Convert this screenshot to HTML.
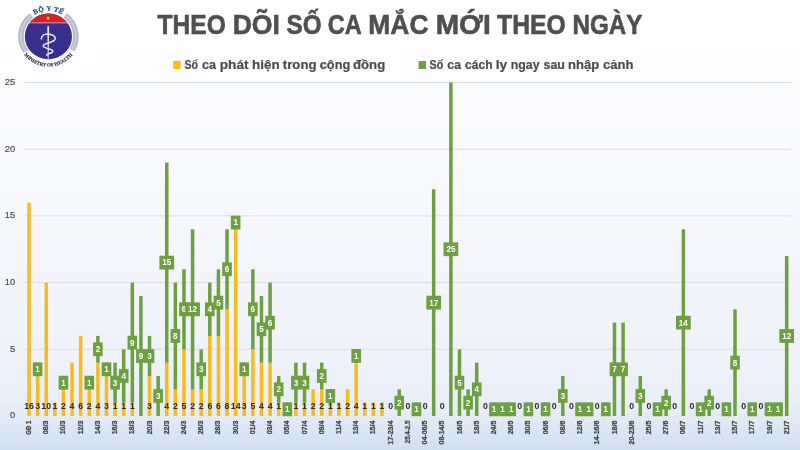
<!DOCTYPE html>
<html lang="vi"><head><meta charset="utf-8"><title>Theo dõi số ca mắc mới theo ngày</title>
<style>html,body{margin:0;padding:0;background:#fff;}body{width:800px;height:450px;overflow:hidden;}svg{display:block;}</style>
</head><body>
<svg width="800" height="450" viewBox="0 0 800 450" font-family="'Liberation Sans', sans-serif">
<defs><linearGradient id="bg" x1="0" y1="0" x2="0" y2="1"><stop offset="0" stop-color="#ffffff"/><stop offset="0.12" stop-color="#fdfdff"/><stop offset="0.45" stop-color="#f7f8fc"/><stop offset="0.8" stop-color="#eff2fa"/><stop offset="0.91" stop-color="#e7edf7"/><stop offset="1" stop-color="#d0dff0"/></linearGradient>
<path id="arcTop" d="M 32.0 16.87 A 25.5 25.5 0 0 1 64.8 16.87"/>
<path id="arcBot" d="M 18.4 42 A 30.6 30.6 0 0 0 78.4 42"/>
</defs>
<rect width="800" height="450" fill="url(#bg)"/>
<rect x="24.5" y="348.80" width="766.5" height="1" fill="#d9dbe0"/>
<rect x="24.5" y="282.10" width="766.5" height="1" fill="#d9dbe0"/>
<rect x="24.5" y="215.40" width="766.5" height="1" fill="#d9dbe0"/>
<rect x="24.5" y="148.70" width="766.5" height="1" fill="#d9dbe0"/>
<rect x="24.5" y="82.00" width="766.5" height="1" fill="#d9dbe0"/>
<text x="15.2" y="418.30" font-size="9.3" fill="#4d4d4d" stroke="#4d4d4d" stroke-width="0.2" text-anchor="end">0</text>
<text x="15.2" y="351.60" font-size="9.3" fill="#4d4d4d" stroke="#4d4d4d" stroke-width="0.2" text-anchor="end">5</text>
<text x="15.2" y="284.90" font-size="9.3" fill="#4d4d4d" stroke="#4d4d4d" stroke-width="0.2" text-anchor="end">10</text>
<text x="15.2" y="218.20" font-size="9.3" fill="#4d4d4d" stroke="#4d4d4d" stroke-width="0.2" text-anchor="end">15</text>
<text x="15.2" y="151.50" font-size="9.3" fill="#4d4d4d" stroke="#4d4d4d" stroke-width="0.2" text-anchor="end">20</text>
<text x="15.2" y="84.80" font-size="9.3" fill="#4d4d4d" stroke="#4d4d4d" stroke-width="0.2" text-anchor="end">25</text>
<rect x="27.25" y="202.56" width="3.5" height="213.44" fill="#f8bb1a"/>
<rect x="35.86" y="375.98" width="3.5" height="40.02" fill="#f8bb1a"/>
<rect x="35.86" y="362.64" width="3.5" height="13.34" fill="#6da040"/>
<rect x="44.47" y="282.60" width="3.5" height="133.40" fill="#f8bb1a"/>
<rect x="53.08" y="402.66" width="3.5" height="13.34" fill="#f8bb1a"/>
<rect x="61.69" y="389.32" width="3.5" height="26.68" fill="#f8bb1a"/>
<rect x="61.69" y="375.98" width="3.5" height="13.34" fill="#6da040"/>
<rect x="70.30" y="362.64" width="3.5" height="53.36" fill="#f8bb1a"/>
<rect x="78.91" y="335.96" width="3.5" height="80.04" fill="#f8bb1a"/>
<rect x="87.52" y="389.32" width="3.5" height="26.68" fill="#f8bb1a"/>
<rect x="87.52" y="375.98" width="3.5" height="13.34" fill="#6da040"/>
<rect x="96.13" y="362.64" width="3.5" height="53.36" fill="#f8bb1a"/>
<rect x="96.13" y="335.96" width="3.5" height="26.68" fill="#6da040"/>
<rect x="104.74" y="375.98" width="3.5" height="40.02" fill="#f8bb1a"/>
<rect x="104.74" y="362.64" width="3.5" height="13.34" fill="#6da040"/>
<rect x="113.35" y="402.66" width="3.5" height="13.34" fill="#f8bb1a"/>
<rect x="113.35" y="362.64" width="3.5" height="40.02" fill="#6da040"/>
<rect x="121.96" y="402.66" width="3.5" height="13.34" fill="#f8bb1a"/>
<rect x="121.96" y="349.30" width="3.5" height="53.36" fill="#6da040"/>
<rect x="130.57" y="402.66" width="3.5" height="13.34" fill="#f8bb1a"/>
<rect x="130.57" y="282.60" width="3.5" height="120.06" fill="#6da040"/>
<rect x="139.18" y="295.94" width="3.5" height="120.06" fill="#6da040"/>
<rect x="147.79" y="375.98" width="3.5" height="40.02" fill="#f8bb1a"/>
<rect x="147.79" y="335.96" width="3.5" height="40.02" fill="#6da040"/>
<rect x="156.40" y="375.98" width="3.5" height="40.02" fill="#6da040"/>
<rect x="165.01" y="362.64" width="3.5" height="53.36" fill="#f8bb1a"/>
<rect x="165.01" y="162.54" width="3.5" height="200.10" fill="#6da040"/>
<rect x="173.62" y="389.32" width="3.5" height="26.68" fill="#f8bb1a"/>
<rect x="173.62" y="282.60" width="3.5" height="106.72" fill="#6da040"/>
<rect x="182.23" y="349.30" width="3.5" height="66.70" fill="#f8bb1a"/>
<rect x="182.23" y="269.26" width="3.5" height="80.04" fill="#6da040"/>
<rect x="190.84" y="389.32" width="3.5" height="26.68" fill="#f8bb1a"/>
<rect x="190.84" y="229.24" width="3.5" height="160.08" fill="#6da040"/>
<rect x="199.45" y="389.32" width="3.5" height="26.68" fill="#f8bb1a"/>
<rect x="199.45" y="349.30" width="3.5" height="40.02" fill="#6da040"/>
<rect x="208.06" y="335.96" width="3.5" height="80.04" fill="#f8bb1a"/>
<rect x="208.06" y="282.60" width="3.5" height="53.36" fill="#6da040"/>
<rect x="216.67" y="335.96" width="3.5" height="80.04" fill="#f8bb1a"/>
<rect x="216.67" y="269.26" width="3.5" height="66.70" fill="#6da040"/>
<rect x="225.28" y="309.28" width="3.5" height="106.72" fill="#f8bb1a"/>
<rect x="225.28" y="229.24" width="3.5" height="80.04" fill="#6da040"/>
<rect x="233.89" y="229.24" width="3.5" height="186.76" fill="#f8bb1a"/>
<rect x="233.89" y="215.90" width="3.5" height="13.34" fill="#6da040"/>
<rect x="242.50" y="375.98" width="3.5" height="40.02" fill="#f8bb1a"/>
<rect x="242.50" y="362.64" width="3.5" height="13.34" fill="#6da040"/>
<rect x="251.11" y="349.30" width="3.5" height="66.70" fill="#f8bb1a"/>
<rect x="251.11" y="269.26" width="3.5" height="80.04" fill="#6da040"/>
<rect x="259.72" y="362.64" width="3.5" height="53.36" fill="#f8bb1a"/>
<rect x="259.72" y="295.94" width="3.5" height="66.70" fill="#6da040"/>
<rect x="268.33" y="362.64" width="3.5" height="53.36" fill="#f8bb1a"/>
<rect x="268.33" y="282.60" width="3.5" height="80.04" fill="#6da040"/>
<rect x="276.94" y="402.66" width="3.5" height="13.34" fill="#f8bb1a"/>
<rect x="276.94" y="375.98" width="3.5" height="26.68" fill="#6da040"/>
<rect x="285.55" y="402.66" width="3.5" height="13.34" fill="#6da040"/>
<rect x="294.16" y="402.66" width="3.5" height="13.34" fill="#f8bb1a"/>
<rect x="294.16" y="362.64" width="3.5" height="40.02" fill="#6da040"/>
<rect x="302.77" y="402.66" width="3.5" height="13.34" fill="#f8bb1a"/>
<rect x="302.77" y="362.64" width="3.5" height="40.02" fill="#6da040"/>
<rect x="311.38" y="389.32" width="3.5" height="26.68" fill="#f8bb1a"/>
<rect x="319.99" y="389.32" width="3.5" height="26.68" fill="#f8bb1a"/>
<rect x="319.99" y="362.64" width="3.5" height="26.68" fill="#6da040"/>
<rect x="328.60" y="402.66" width="3.5" height="13.34" fill="#f8bb1a"/>
<rect x="328.60" y="389.32" width="3.5" height="13.34" fill="#6da040"/>
<rect x="337.21" y="402.66" width="3.5" height="13.34" fill="#f8bb1a"/>
<rect x="345.82" y="389.32" width="3.5" height="26.68" fill="#f8bb1a"/>
<rect x="354.43" y="362.64" width="3.5" height="53.36" fill="#f8bb1a"/>
<rect x="354.43" y="349.30" width="3.5" height="13.34" fill="#6da040"/>
<rect x="363.04" y="402.66" width="3.5" height="13.34" fill="#f8bb1a"/>
<rect x="371.65" y="402.66" width="3.5" height="13.34" fill="#f8bb1a"/>
<rect x="380.26" y="402.66" width="3.5" height="13.34" fill="#f8bb1a"/>
<rect x="397.48" y="389.32" width="3.5" height="26.68" fill="#6da040"/>
<rect x="414.70" y="402.66" width="3.5" height="13.34" fill="#6da040"/>
<rect x="431.92" y="189.22" width="3.5" height="226.78" fill="#6da040"/>
<rect x="449.14" y="82.50" width="3.5" height="333.50" fill="#6da040"/>
<rect x="457.75" y="349.30" width="3.5" height="66.70" fill="#6da040"/>
<rect x="466.36" y="389.32" width="3.5" height="26.68" fill="#6da040"/>
<rect x="474.97" y="362.64" width="3.5" height="53.36" fill="#6da040"/>
<rect x="492.19" y="402.66" width="3.5" height="13.34" fill="#6da040"/>
<rect x="500.80" y="402.66" width="3.5" height="13.34" fill="#6da040"/>
<rect x="509.41" y="402.66" width="3.5" height="13.34" fill="#6da040"/>
<rect x="526.63" y="402.66" width="3.5" height="13.34" fill="#6da040"/>
<rect x="543.85" y="402.66" width="3.5" height="13.34" fill="#6da040"/>
<rect x="561.07" y="375.98" width="3.5" height="40.02" fill="#6da040"/>
<rect x="578.29" y="402.66" width="3.5" height="13.34" fill="#6da040"/>
<rect x="586.90" y="402.66" width="3.5" height="13.34" fill="#6da040"/>
<rect x="604.12" y="402.66" width="3.5" height="13.34" fill="#6da040"/>
<rect x="612.73" y="322.62" width="3.5" height="93.38" fill="#6da040"/>
<rect x="621.34" y="322.62" width="3.5" height="93.38" fill="#6da040"/>
<rect x="638.56" y="375.98" width="3.5" height="40.02" fill="#6da040"/>
<rect x="655.78" y="402.66" width="3.5" height="13.34" fill="#6da040"/>
<rect x="664.39" y="389.32" width="3.5" height="26.68" fill="#6da040"/>
<rect x="681.61" y="229.24" width="3.5" height="186.76" fill="#6da040"/>
<rect x="698.83" y="402.66" width="3.5" height="13.34" fill="#6da040"/>
<rect x="707.44" y="389.32" width="3.5" height="26.68" fill="#6da040"/>
<rect x="724.66" y="402.66" width="3.5" height="13.34" fill="#6da040"/>
<rect x="733.27" y="309.28" width="3.5" height="106.72" fill="#6da040"/>
<rect x="750.49" y="402.66" width="3.5" height="13.34" fill="#6da040"/>
<rect x="767.71" y="402.66" width="3.5" height="13.34" fill="#6da040"/>
<rect x="776.32" y="402.66" width="3.5" height="13.34" fill="#6da040"/>
<rect x="784.93" y="255.92" width="3.5" height="160.08" fill="#6da040"/>
<g font-size="9.2" font-weight="bold" fill="#2b2b2b" text-anchor="middle">
<text transform="translate(29.00 409.2) scale(0.95 1.04)">16</text>
<text transform="translate(37.61 409.2) scale(0.95 1.04)">3</text>
<text transform="translate(46.22 409.2) scale(0.95 1.04)">10</text>
<text transform="translate(54.83 409.2) scale(0.95 1.04)">1</text>
<text transform="translate(63.44 409.2) scale(0.95 1.04)">2</text>
<text transform="translate(72.05 409.2) scale(0.95 1.04)">4</text>
<text transform="translate(80.66 409.2) scale(0.95 1.04)">6</text>
<text transform="translate(89.27 409.2) scale(0.95 1.04)">2</text>
<text transform="translate(97.88 409.2) scale(0.95 1.04)">4</text>
<text transform="translate(106.49 409.2) scale(0.95 1.04)">3</text>
<text transform="translate(115.10 409.2) scale(0.95 1.04)">1</text>
<text transform="translate(123.71 409.2) scale(0.95 1.04)">1</text>
<text transform="translate(132.32 409.2) scale(0.95 1.04)">1</text>
<text transform="translate(149.54 409.2) scale(0.95 1.04)">3</text>
<text transform="translate(166.76 409.2) scale(0.95 1.04)">4</text>
<text transform="translate(175.37 409.2) scale(0.95 1.04)">2</text>
<text transform="translate(183.98 409.2) scale(0.95 1.04)">5</text>
<text transform="translate(192.59 409.2) scale(0.95 1.04)">2</text>
<text transform="translate(201.20 409.2) scale(0.95 1.04)">2</text>
<text transform="translate(209.81 409.2) scale(0.95 1.04)">6</text>
<text transform="translate(218.42 409.2) scale(0.95 1.04)">6</text>
<text transform="translate(227.03 409.2) scale(0.95 1.04)">8</text>
<text transform="translate(235.64 409.2) scale(0.95 1.04)">14</text>
<text transform="translate(244.25 409.2) scale(0.95 1.04)">3</text>
<text transform="translate(252.86 409.2) scale(0.95 1.04)">5</text>
<text transform="translate(261.47 409.2) scale(0.95 1.04)">4</text>
<text transform="translate(270.08 409.2) scale(0.95 1.04)">4</text>
<text transform="translate(278.69 409.2) scale(0.95 1.04)">1</text>
<text transform="translate(295.91 409.2) scale(0.95 1.04)">1</text>
<text transform="translate(304.52 409.2) scale(0.95 1.04)">1</text>
<text transform="translate(313.13 409.2) scale(0.95 1.04)">2</text>
<text transform="translate(321.74 409.2) scale(0.95 1.04)">2</text>
<text transform="translate(330.35 409.2) scale(0.95 1.04)">1</text>
<text transform="translate(338.96 409.2) scale(0.95 1.04)">1</text>
<text transform="translate(347.57 409.2) scale(0.95 1.04)">2</text>
<text transform="translate(356.18 409.2) scale(0.95 1.04)">4</text>
<text transform="translate(364.79 409.2) scale(0.95 1.04)">1</text>
<text transform="translate(373.40 409.2) scale(0.95 1.04)">1</text>
<text transform="translate(382.01 409.2) scale(0.95 1.04)">1</text>
<text transform="translate(390.62 409.2) scale(0.95 1.04)">0</text>
<text transform="translate(407.84 409.2) scale(0.95 1.04)">0</text>
<text transform="translate(425.06 409.2) scale(0.95 1.04)">0</text>
<text transform="translate(442.28 409.2) scale(0.95 1.04)">0</text>
<text transform="translate(485.33 409.2) scale(0.95 1.04)">0</text>
<text transform="translate(519.77 409.2) scale(0.95 1.04)">0</text>
<text transform="translate(536.99 409.2) scale(0.95 1.04)">0</text>
<text transform="translate(554.21 409.2) scale(0.95 1.04)">0</text>
<text transform="translate(571.43 409.2) scale(0.95 1.04)">0</text>
<text transform="translate(597.26 409.2) scale(0.95 1.04)">0</text>
<text transform="translate(631.70 409.2) scale(0.95 1.04)">0</text>
<text transform="translate(648.92 409.2) scale(0.95 1.04)">0</text>
<text transform="translate(674.75 409.2) scale(0.95 1.04)">0</text>
<text transform="translate(691.97 409.2) scale(0.95 1.04)">0</text>
<text transform="translate(717.80 409.2) scale(0.95 1.04)">0</text>
<text transform="translate(743.63 409.2) scale(0.95 1.04)">0</text>
<text transform="translate(760.85 409.2) scale(0.95 1.04)">0</text>
</g>
<g font-size="9.2" font-weight="bold" fill="#ffffff" text-anchor="middle">
<rect x="32.81" y="362.41" width="9.6" height="13.8" fill="#6da040"/><text transform="translate(37.61 372.21) scale(0.88 1.02)">1</text>
<rect x="58.64" y="375.75" width="9.6" height="13.8" fill="#6da040"/><text transform="translate(63.44 385.55) scale(0.88 1.02)">1</text>
<rect x="84.47" y="375.75" width="9.6" height="13.8" fill="#6da040"/><text transform="translate(89.27 385.55) scale(0.88 1.02)">1</text>
<rect x="93.08" y="342.40" width="9.6" height="13.8" fill="#6da040"/><text transform="translate(97.88 352.20) scale(0.88 1.02)">2</text>
<rect x="101.69" y="362.41" width="9.6" height="13.8" fill="#6da040"/><text transform="translate(106.49 372.21) scale(0.88 1.02)">1</text>
<rect x="110.30" y="375.75" width="9.6" height="13.8" fill="#6da040"/><text transform="translate(115.10 385.55) scale(0.88 1.02)">3</text>
<rect x="118.91" y="369.08" width="9.6" height="13.8" fill="#6da040"/><text transform="translate(123.71 378.88) scale(0.88 1.02)">4</text>
<rect x="127.52" y="335.73" width="9.6" height="13.8" fill="#6da040"/><text transform="translate(132.32 345.53) scale(0.88 1.02)">9</text>
<rect x="136.13" y="349.07" width="9.6" height="13.8" fill="#6da040"/><text transform="translate(140.93 358.87) scale(0.88 1.02)">9</text>
<rect x="144.74" y="349.07" width="9.6" height="13.8" fill="#6da040"/><text transform="translate(149.54 358.87) scale(0.88 1.02)">3</text>
<rect x="153.35" y="389.09" width="9.6" height="13.8" fill="#6da040"/><text transform="translate(158.15 398.89) scale(0.88 1.02)">3</text>
<rect x="159.41" y="255.69" width="14.7" height="13.8" fill="#6da040"/><text transform="translate(166.76 265.49) scale(0.88 1.02)">15</text>
<rect x="170.57" y="329.06" width="9.6" height="13.8" fill="#6da040"/><text transform="translate(175.37 338.86) scale(0.88 1.02)">8</text>
<rect x="179.18" y="302.38" width="9.6" height="13.8" fill="#6da040"/><text transform="translate(183.98 312.18) scale(0.88 1.02)">6</text>
<rect x="185.24" y="302.38" width="14.7" height="13.8" fill="#6da040"/><text transform="translate(192.59 312.18) scale(0.88 1.02)">12</text>
<rect x="196.40" y="362.41" width="9.6" height="13.8" fill="#6da040"/><text transform="translate(201.20 372.21) scale(0.88 1.02)">3</text>
<rect x="205.01" y="302.38" width="9.6" height="13.8" fill="#6da040"/><text transform="translate(209.81 312.18) scale(0.88 1.02)">4</text>
<rect x="213.62" y="295.71" width="9.6" height="13.8" fill="#6da040"/><text transform="translate(218.42 305.51) scale(0.88 1.02)">5</text>
<rect x="222.23" y="262.36" width="9.6" height="13.8" fill="#6da040"/><text transform="translate(227.03 272.16) scale(0.88 1.02)">6</text>
<rect x="230.84" y="215.67" width="9.6" height="13.8" fill="#6da040"/><text transform="translate(235.64 225.47) scale(0.88 1.02)">1</text>
<rect x="239.45" y="362.41" width="9.6" height="13.8" fill="#6da040"/><text transform="translate(244.25 372.21) scale(0.88 1.02)">1</text>
<rect x="248.06" y="302.38" width="9.6" height="13.8" fill="#6da040"/><text transform="translate(252.86 312.18) scale(0.88 1.02)">6</text>
<rect x="256.67" y="322.39" width="9.6" height="13.8" fill="#6da040"/><text transform="translate(261.47 332.19) scale(0.88 1.02)">5</text>
<rect x="265.28" y="315.72" width="9.6" height="13.8" fill="#6da040"/><text transform="translate(270.08 325.52) scale(0.88 1.02)">6</text>
<rect x="273.89" y="382.42" width="9.6" height="13.8" fill="#6da040"/><text transform="translate(278.69 392.22) scale(0.88 1.02)">2</text>
<rect x="282.50" y="402.43" width="9.6" height="13.8" fill="#6da040"/><text transform="translate(287.30 412.23) scale(0.88 1.02)">1</text>
<rect x="291.11" y="375.75" width="9.6" height="13.8" fill="#6da040"/><text transform="translate(295.91 385.55) scale(0.88 1.02)">3</text>
<rect x="299.72" y="375.75" width="9.6" height="13.8" fill="#6da040"/><text transform="translate(304.52 385.55) scale(0.88 1.02)">3</text>
<rect x="316.94" y="369.08" width="9.6" height="13.8" fill="#6da040"/><text transform="translate(321.74 378.88) scale(0.88 1.02)">2</text>
<rect x="325.55" y="389.09" width="9.6" height="13.8" fill="#6da040"/><text transform="translate(330.35 398.89) scale(0.88 1.02)">1</text>
<rect x="351.38" y="349.07" width="9.6" height="13.8" fill="#6da040"/><text transform="translate(356.18 358.87) scale(0.88 1.02)">1</text>
<rect x="394.43" y="395.76" width="9.6" height="13.8" fill="#6da040"/><text transform="translate(399.23 405.56) scale(0.88 1.02)">2</text>
<rect x="411.65" y="402.43" width="9.6" height="13.8" fill="#6da040"/><text transform="translate(416.45 412.23) scale(0.88 1.02)">1</text>
<rect x="426.32" y="295.71" width="14.7" height="13.8" fill="#6da040"/><text transform="translate(433.67 305.51) scale(0.88 1.02)">17</text>
<rect x="443.54" y="242.35" width="14.7" height="13.8" fill="#6da040"/><text transform="translate(450.89 252.15) scale(0.88 1.02)">25</text>
<rect x="454.70" y="375.75" width="9.6" height="13.8" fill="#6da040"/><text transform="translate(459.50 385.55) scale(0.88 1.02)">5</text>
<rect x="463.31" y="395.76" width="9.6" height="13.8" fill="#6da040"/><text transform="translate(468.11 405.56) scale(0.88 1.02)">2</text>
<rect x="471.92" y="382.42" width="9.6" height="13.8" fill="#6da040"/><text transform="translate(476.72 392.22) scale(0.88 1.02)">4</text>
<rect x="489.14" y="402.43" width="9.6" height="13.8" fill="#6da040"/><text transform="translate(493.94 412.23) scale(0.88 1.02)">1</text>
<rect x="497.75" y="402.43" width="9.6" height="13.8" fill="#6da040"/><text transform="translate(502.55 412.23) scale(0.88 1.02)">1</text>
<rect x="506.36" y="402.43" width="9.6" height="13.8" fill="#6da040"/><text transform="translate(511.16 412.23) scale(0.88 1.02)">1</text>
<rect x="523.58" y="402.43" width="9.6" height="13.8" fill="#6da040"/><text transform="translate(528.38 412.23) scale(0.88 1.02)">1</text>
<rect x="540.80" y="402.43" width="9.6" height="13.8" fill="#6da040"/><text transform="translate(545.60 412.23) scale(0.88 1.02)">1</text>
<rect x="558.02" y="389.09" width="9.6" height="13.8" fill="#6da040"/><text transform="translate(562.82 398.89) scale(0.88 1.02)">3</text>
<rect x="575.24" y="402.43" width="9.6" height="13.8" fill="#6da040"/><text transform="translate(580.04 412.23) scale(0.88 1.02)">1</text>
<rect x="583.85" y="402.43" width="9.6" height="13.8" fill="#6da040"/><text transform="translate(588.65 412.23) scale(0.88 1.02)">1</text>
<rect x="601.07" y="402.43" width="9.6" height="13.8" fill="#6da040"/><text transform="translate(605.87 412.23) scale(0.88 1.02)">1</text>
<rect x="609.68" y="362.41" width="9.6" height="13.8" fill="#6da040"/><text transform="translate(614.48 372.21) scale(0.88 1.02)">7</text>
<rect x="618.29" y="362.41" width="9.6" height="13.8" fill="#6da040"/><text transform="translate(623.09 372.21) scale(0.88 1.02)">7</text>
<rect x="635.51" y="389.09" width="9.6" height="13.8" fill="#6da040"/><text transform="translate(640.31 398.89) scale(0.88 1.02)">3</text>
<rect x="652.73" y="402.43" width="9.6" height="13.8" fill="#6da040"/><text transform="translate(657.53 412.23) scale(0.88 1.02)">1</text>
<rect x="661.34" y="395.76" width="9.6" height="13.8" fill="#6da040"/><text transform="translate(666.14 405.56) scale(0.88 1.02)">2</text>
<rect x="676.01" y="315.72" width="14.7" height="13.8" fill="#6da040"/><text transform="translate(683.36 325.52) scale(0.88 1.02)">14</text>
<rect x="695.78" y="402.43" width="9.6" height="13.8" fill="#6da040"/><text transform="translate(700.58 412.23) scale(0.88 1.02)">1</text>
<rect x="704.39" y="395.76" width="9.6" height="13.8" fill="#6da040"/><text transform="translate(709.19 405.56) scale(0.88 1.02)">2</text>
<rect x="721.61" y="402.43" width="9.6" height="13.8" fill="#6da040"/><text transform="translate(726.41 412.23) scale(0.88 1.02)">1</text>
<rect x="730.22" y="355.74" width="9.6" height="13.8" fill="#6da040"/><text transform="translate(735.02 365.54) scale(0.88 1.02)">8</text>
<rect x="747.44" y="402.43" width="9.6" height="13.8" fill="#6da040"/><text transform="translate(752.24 412.23) scale(0.88 1.02)">1</text>
<rect x="764.66" y="402.43" width="9.6" height="13.8" fill="#6da040"/><text transform="translate(769.46 412.23) scale(0.88 1.02)">1</text>
<rect x="773.27" y="402.43" width="9.6" height="13.8" fill="#6da040"/><text transform="translate(778.07 412.23) scale(0.88 1.02)">1</text>
<rect x="779.33" y="329.06" width="14.7" height="13.8" fill="#6da040"/><text transform="translate(786.68 338.86) scale(0.88 1.02)">12</text>
</g>
<g font-size="7" font-weight="bold" fill="#454545" stroke="#454545" stroke-width="0.28" text-anchor="end">
<text transform="translate(31.05 420.7) rotate(-90)" textLength="14.0" lengthAdjust="spacingAndGlyphs">GĐ 1</text>
<text transform="translate(48.27 420.7) rotate(-90)">08/3</text>
<text transform="translate(65.49 420.7) rotate(-90)">10/3</text>
<text transform="translate(82.71 420.7) rotate(-90)">12/3</text>
<text transform="translate(99.93 420.7) rotate(-90)">14/3</text>
<text transform="translate(117.15 420.7) rotate(-90)">16/3</text>
<text transform="translate(134.37 420.7) rotate(-90)">18/3</text>
<text transform="translate(151.59 420.7) rotate(-90)">20/3</text>
<text transform="translate(168.81 420.7) rotate(-90)">22/3</text>
<text transform="translate(186.03 420.7) rotate(-90)">24/3</text>
<text transform="translate(203.25 420.7) rotate(-90)">26/3</text>
<text transform="translate(220.47 420.7) rotate(-90)">28/3</text>
<text transform="translate(237.69 420.7) rotate(-90)">30/3</text>
<text transform="translate(254.91 420.7) rotate(-90)">01/4</text>
<text transform="translate(272.13 420.7) rotate(-90)">03/4</text>
<text transform="translate(289.35 420.7) rotate(-90)">05/4</text>
<text transform="translate(306.57 420.7) rotate(-90)">07/4</text>
<text transform="translate(323.79 420.7) rotate(-90)">09/4</text>
<text transform="translate(341.01 420.7) rotate(-90)">11/4</text>
<text transform="translate(358.23 420.7) rotate(-90)">13/4</text>
<text transform="translate(375.45 420.7) rotate(-90)">15/4</text>
<text transform="translate(392.67 420.7) rotate(-90)">17-23/4</text>
<text transform="translate(409.89 420.7) rotate(-90)" textLength="22.6" lengthAdjust="spacingAndGlyphs">25.4-2.5</text>
<text transform="translate(427.11 420.7) rotate(-90)">04-06/5</text>
<text transform="translate(444.33 420.7) rotate(-90)">08-14/5</text>
<text transform="translate(461.55 420.7) rotate(-90)">16/5</text>
<text transform="translate(478.77 420.7) rotate(-90)">18/5</text>
<text transform="translate(495.99 420.7) rotate(-90)">24/5</text>
<text transform="translate(513.21 420.7) rotate(-90)">26/5</text>
<text transform="translate(530.43 420.7) rotate(-90)">30/5</text>
<text transform="translate(547.65 420.7) rotate(-90)">06/6</text>
<text transform="translate(564.87 420.7) rotate(-90)">08/6</text>
<text transform="translate(582.09 420.7) rotate(-90)">12/6</text>
<text transform="translate(599.31 420.7) rotate(-90)">14-16/6</text>
<text transform="translate(616.53 420.7) rotate(-90)">18/6</text>
<text transform="translate(633.75 420.7) rotate(-90)">20-23/6</text>
<text transform="translate(650.97 420.7) rotate(-90)">25/5</text>
<text transform="translate(668.19 420.7) rotate(-90)">27/6</text>
<text transform="translate(685.41 420.7) rotate(-90)">06/7</text>
<text transform="translate(702.63 420.7) rotate(-90)">11/7</text>
<text transform="translate(719.85 420.7) rotate(-90)">13/7</text>
<text transform="translate(737.07 420.7) rotate(-90)">15/7</text>
<text transform="translate(754.29 420.7) rotate(-90)">17/7</text>
<text transform="translate(771.51 420.7) rotate(-90)">19/7</text>
<text transform="translate(788.73 420.7) rotate(-90)">21/7</text>
</g>
<g id="title">
<text transform="translate(157.52 34.4) scale(0.9178 1)" font-size="26.8" font-weight="bold" fill="#4f4f4f" stroke="#4f4f4f" stroke-width="0.6" stroke-linejoin="round">THEO</text>
<text transform="translate(232.66 34.4) scale(0.9932 1)" font-size="26.8" font-weight="bold" fill="#4f4f4f" stroke="#4f4f4f" stroke-width="0.6" stroke-linejoin="round">DÕI</text>
<text transform="translate(286.57 34.4) scale(0.9075 1)" font-size="26.8" font-weight="bold" fill="#4f4f4f" stroke="#4f4f4f" stroke-width="0.6" stroke-linejoin="round">SỐ</text>
<text transform="translate(327.87 34.4) scale(0.8784 1)" font-size="26.8" font-weight="bold" fill="#4f4f4f" stroke="#4f4f4f" stroke-width="0.6" stroke-linejoin="round">CA</text>
<text transform="translate(368.27 34.4) scale(0.9872 1)" font-size="26.8" font-weight="bold" fill="#4f4f4f" stroke="#4f4f4f" stroke-width="0.6" stroke-linejoin="round">MẮC</text>
<text transform="translate(435.67 34.4) scale(1.0459 1)" font-size="26.8" font-weight="bold" fill="#4f4f4f" stroke="#4f4f4f" stroke-width="0.6" stroke-linejoin="round">MỚI</text>
<text transform="translate(497.02 34.4) scale(0.9247 1)" font-size="26.8" font-weight="bold" fill="#4f4f4f" stroke="#4f4f4f" stroke-width="0.6" stroke-linejoin="round">THEO</text>
<text transform="translate(572.42 34.4) scale(0.9023 1)" font-size="26.8" font-weight="bold" fill="#4f4f4f" stroke="#4f4f4f" stroke-width="0.6" stroke-linejoin="round">NGÀY</text>
</g>
<rect x="173.2" y="61" width="7.4" height="8" fill="#f8bb1a"/>
<g id="leg1">
<text transform="translate(184.58 68.7) scale(0.8361 1)" font-size="12.6" font-weight="bold" fill="#4c4c4c" stroke="#4c4c4c" stroke-width="0.2" stroke-linejoin="round">Số</text>
<text transform="translate(202.00 68.7) scale(1.0000 1)" font-size="12.6" font-weight="bold" fill="#4c4c4c" stroke="#4c4c4c" stroke-width="0.2" stroke-linejoin="round">ca</text>
<text transform="translate(219.79 68.7) scale(1.0835 1)" font-size="12.6" font-weight="bold" fill="#4c4c4c" stroke="#4c4c4c" stroke-width="0.2" stroke-linejoin="round">phát</text>
<text transform="translate(252.03 68.7) scale(1.0688 1)" font-size="12.6" font-weight="bold" fill="#4c4c4c" stroke="#4c4c4c" stroke-width="0.2" stroke-linejoin="round">hiện</text>
<text transform="translate(282.84 68.7) scale(1.0484 1)" font-size="12.6" font-weight="bold" fill="#4c4c4c" stroke="#4c4c4c" stroke-width="0.2" stroke-linejoin="round">trong</text>
<text transform="translate(319.74 68.7) scale(1.0139 1)" font-size="12.6" font-weight="bold" fill="#4c4c4c" stroke="#4c4c4c" stroke-width="0.2" stroke-linejoin="round">cộng</text>
<text transform="translate(352.98 68.7) scale(1.0475 1)" font-size="12.6" font-weight="bold" fill="#4c4c4c" stroke="#4c4c4c" stroke-width="0.2" stroke-linejoin="round">đồng</text>
</g>
<rect x="418.6" y="61" width="7.4" height="8" fill="#6da040"/>
<g id="leg2">
<text transform="translate(429.57 68.7) scale(0.8590 1)" font-size="12.6" font-weight="bold" fill="#4c4c4c" stroke="#4c4c4c" stroke-width="0.2" stroke-linejoin="round">Số</text>
<text transform="translate(447.26 68.7) scale(0.9815 1)" font-size="12.6" font-weight="bold" fill="#4c4c4c" stroke="#4c4c4c" stroke-width="0.2" stroke-linejoin="round">ca</text>
<text transform="translate(465.12 68.7) scale(0.9564 1)" font-size="12.6" font-weight="bold" fill="#4c4c4c" stroke="#4c4c4c" stroke-width="0.2" stroke-linejoin="round">cách</text>
<text transform="translate(495.65 68.7) scale(1.0973 1)" font-size="12.6" font-weight="bold" fill="#4c4c4c" stroke="#4c4c4c" stroke-width="0.2" stroke-linejoin="round">ly</text>
<text transform="translate(510.77 68.7) scale(0.9789 1)" font-size="12.6" font-weight="bold" fill="#4c4c4c" stroke="#4c4c4c" stroke-width="0.2" stroke-linejoin="round">ngay</text>
<text transform="translate(543.51 68.7) scale(0.9877 1)" font-size="12.6" font-weight="bold" fill="#4c4c4c" stroke="#4c4c4c" stroke-width="0.2" stroke-linejoin="round">sau</text>
<text transform="translate(567.97 68.7) scale(1.0348 1)" font-size="12.6" font-weight="bold" fill="#4c4c4c" stroke="#4c4c4c" stroke-width="0.2" stroke-linejoin="round">nhập</text>
<text transform="translate(602.98 68.7) scale(1.0357 1)" font-size="12.6" font-weight="bold" fill="#4c4c4c" stroke="#4c4c4c" stroke-width="0.2" stroke-linejoin="round">cảnh</text>
</g>
<g id="logo">
<g transform="translate(48.4 36.4) scale(1 0.97) translate(-48.4 -36.4)">
<path d="M 25.60 51.78 A 27.5 27.5 0 0 1 31.47 14.73" fill="none" stroke="#b4b7c8" stroke-width="5.6"/>
<path d="M 65.33 14.73 A 27.5 27.5 0 0 1 71.97 50.56" fill="none" stroke="#b4b7c8" stroke-width="5.6"/>
<path d="M 25.34 51.38 A 27.5 27.5 0 0 1 31.09 15.03" fill="none" stroke="#c9cbd8" stroke-width="2.4"/>
<path d="M 65.71 15.03 A 27.5 27.5 0 0 1 72.22 50.15" fill="none" stroke="#c9cbd8" stroke-width="2.4"/>
</g>
<clipPath id="disc"><ellipse cx="48.4" cy="36.4" rx="23.6" ry="22.9"/></clipPath>
<g clip-path="url(#disc)"><rect x="20" y="10" width="60" height="60" fill="#37308f"/><rect x="20" y="10" width="60" height="12.5" fill="#d81f2a"/><rect x="20" y="22.4" width="60" height="0.9" fill="#e9a9c0"/></g>
<polygon points="48.1,15.9 48.65,17.45 50.3,17.5 49.0,18.5 49.45,20.1 48.1,19.15 46.75,20.1 47.2,18.5 45.9,17.5 47.55,17.45" fill="#ffd83a"/>
<path d="M47.3 26.2 L49.1 26.2 L48.6 58.8 L47.8 58.8 Z" fill="#ececf6"/>
<path d="M41.3 38.8 C41.6 36.2 44 33.8 47.5 34 C52 34.2 55.6 36 55.3 38.6 C55 41 51.5 42 48.2 43 C45 44 43 44.6 43.2 46 C43.4 47.6 46 48 48.4 48.8 C51 49.6 53 50 52.8 51.4 C52.6 52.8 50.5 53.2 48.5 53.8 C47.3 54.2 46.6 54.6 46.8 55.4" stroke="#ececf6" stroke-width="1.5" stroke-linecap="round" fill="none"/>
<text font-family="'Liberation Serif', serif" font-size="7" font-weight="bold" fill="#2d4a78" stroke="#2d4a78" stroke-width="0.2" letter-spacing="0.2"><textPath href="#arcTop" startOffset="50%" text-anchor="middle">BỘ Y TẾ</textPath></text>
<text font-family="'Liberation Serif', serif" font-size="5" font-weight="bold" fill="#2a2a40" stroke="#2a2a40" stroke-width="0.15"><textPath href="#arcBot" startOffset="50%" text-anchor="middle">MINISTRY OF HEALTH</textPath></text>
</g>
</svg>
</body></html>
